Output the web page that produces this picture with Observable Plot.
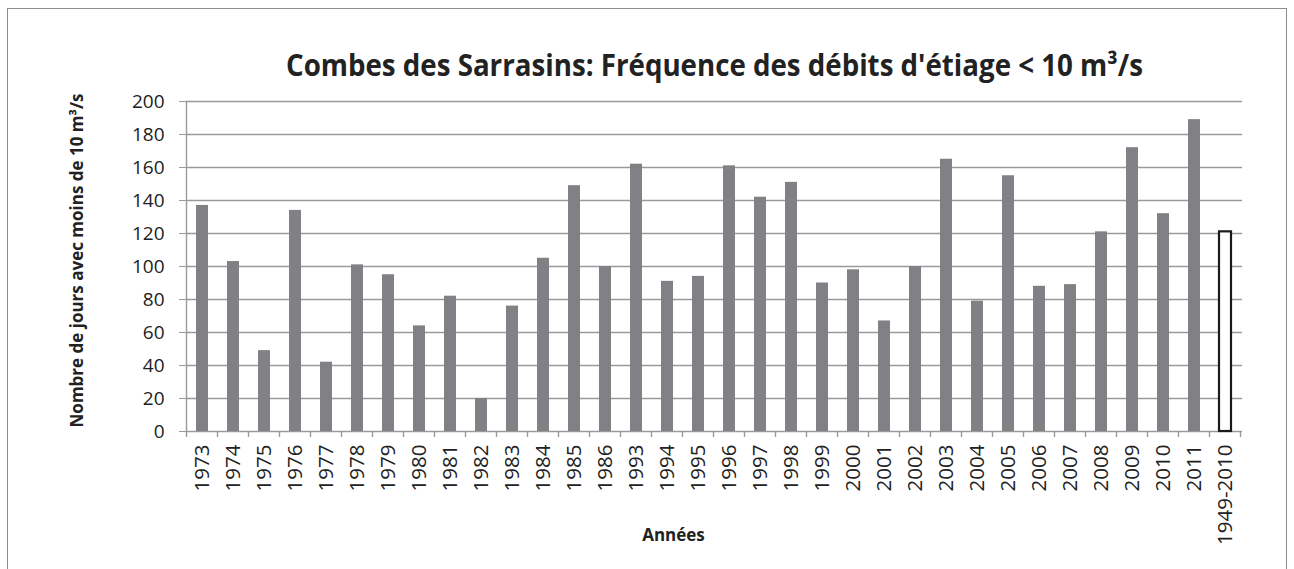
<!DOCTYPE html>
<html><head><meta charset="utf-8">
<script src="https://cdn.jsdelivr.net/npm/d3@7"></script>
<script src="https://cdn.jsdelivr.net/npm/@observablehq/plot@0.6"></script>
<style>
body{margin:0;background:#fff;}
#wrap{position:relative;width:1294px;height:569px;overflow:hidden;}
#border{position:absolute;left:7px;top:8px;width:1280px;height:620px;border:1.5px solid #8e8e8e;box-sizing:border-box;}
#chart{position:absolute;left:0;top:0;}
</style></head><body>
<div id="wrap"><div id="border"></div><div id="chart"></div></div>
<script>
const years = ["1973","1974","1975","1976","1977","1978","1979","1980","1981","1982","1983","1984","1985","1986",
  "1993","1994","1995","1996","1997","1998","1999","2000","2001","2002","2003","2004","2005","2006","2007","2008","2009","2010","2011","1949-2010"];
const values = [137,103,49,134,42,101,95,64,82,20,76,105,149,100,
  162,91,94,161,142,151,90,98,67,100,165,79,155,88,89,121,172,132,189,121];
const referenceLabel = "1949-2010";
const yTicks = [0,20,40,60,80,100,120,140,160,180,200];
const title = "Combes des Sarrasins: Fréquence des débits d'étiage < 10 m³/s";
const yLabel = "Nombre de jours avec moins de 10 m³/s";
const xLabel = "Années";

const data = years.map((year, i) => ({year, value: values[i]}));
const gridColor = "#9a9a9a";

function bandBoundaryTicks(index, scales) {
  const x = scales.x, y0 = scales.y(0);
  const desc = scales.scales && scales.scales.x;
  const bw = desc && desc.bandwidth != null ? desc.bandwidth : (x.bandwidth ? x.bandwidth() : 0);
  const step = x(years[1]) - x(years[0]);
  const xs = years.map(c => x(c) + bw / 2 - step / 2);
  xs.push(x(years[years.length - 1]) + bw / 2 + step / 2);
  const g = d3.create("svg:g").attr("stroke", gridColor).attr("stroke-width", 1.4);
  g.selectAll("line").data(xs).join("line")
    .attr("x1", d => d).attr("x2", d => d).attr("y1", y0).attr("y2", y0 + 6);
  return g.node();
}

const plot = Plot.plot({
  width: 1294, height: 569,
  marginLeft: 186, marginRight: 52, marginTop: 101, marginBottom: 138,
  style: {fontFamily: "'Open Sans', sans-serif", background: "transparent", color: "#222"},
  x: {domain: years, paddingInner: 0.61, paddingOuter: 0.305, label: null},
  y: {domain: [0, 200], label: null},
  marks: [
    Plot.ruleY(yTicks, {stroke: gridColor, strokeWidth: 1.4}),
    Plot.frame({anchor: "left", stroke: gridColor, strokeWidth: 1.4}),
    bandBoundaryTicks,
    Plot.barY(data.filter(d => d.year !== referenceLabel), {x: "year", y: "value", fill: "#808085"}),
    Plot.barY(data.filter(d => d.year === referenceLabel), {x: "year", y: "value", fill: "white", stroke: "#1a1a1a", strokeWidth: 2.2}),
    Plot.axisY({ticks: yTicks, tickSize: 7, tickPadding: 15, fontSize: 19, stroke: gridColor, label: null}),
    Plot.axisX({tickSize: 0, tickRotate: -90, tickPadding: 13, fontSize: 20.5, label: null}),
    Plot.text([yLabel], {text: d => d, frameAnchor: "left", textAnchor: "middle", rotate: -90, dx: -109, dy: -6, fontSize: 17, fontWeight: "bold", fill: "#222"}),
    Plot.text([xLabel], {text: d => d, frameAnchor: "bottom", dx: -41, dy: 109, fontSize: 17, fontWeight: "bold", fill: "#222"}),
    Plot.text([title], {text: d => d, frameAnchor: "top", dy: -47, fontSize: 30, fontWeight: "bold", fill: "#222"})
  ]
});
document.getElementById("chart").appendChild(plot);
plot.querySelectorAll("text").forEach(t => {
  if (t.textContent === title) {
    t.setAttribute("textLength", 857);
    t.setAttribute("lengthAdjust", "spacingAndGlyphs");
  }
});
</script>
</body></html>
